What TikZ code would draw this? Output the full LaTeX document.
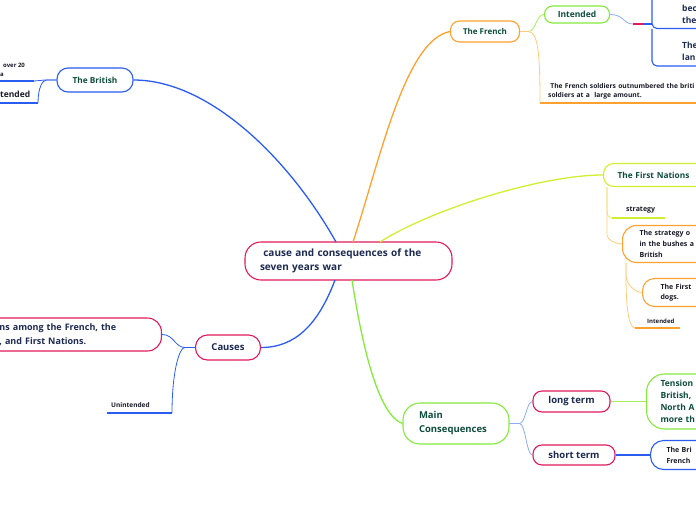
\documentclass[tikz,border=0pt]{standalone}
\usepackage{fontspec}
\setmainfont{Open Sans}
\definecolor{crim}{HTML}{E2195A}
\definecolor{blu}{HTML}{2A5CF0}
\definecolor{lblu}{HTML}{8FAAF8}
\definecolor{orng}{HTML}{FFA12E}
\definecolor{lorng}{HTML}{FFCB7A}
\definecolor{ylw}{HTML}{D2EE30}
\definecolor{lylw}{HTML}{E4F46A}
\definecolor{grn}{HTML}{84EA3C}
\definecolor{lgrn}{HTML}{A8EE5C}
\definecolor{dgrn}{HTML}{0E4D3B}
\definecolor{navy}{HTML}{1C2A52}
\definecolor{ink}{HTML}{1A1A28}
\tikzset{
  topic/.style={draw, rounded corners=10pt, line width=1.1pt, fill=white, inner sep=0pt, font=\bfseries\fontsize{8}{10}\selectfont},
  plain/.style={inner sep=0pt, text=ink, align=left, font=\bfseries\fontsize{6.7}{9}\selectfont},
  br/.style={line width=1.3pt},
  sub/.style={line width=0.8pt},
  uline/.style={line width=1.2pt}
}
\begin{document}
\begin{tikzpicture}[x=1pt,y=-1pt]
\useasboundingbox (0,0) rectangle (696,520);
\clip (0,0) rectangle (696,520);
\coordinate (cA) at (336,242);
\coordinate (cB) at (353,242);
\coordinate (cC) at (380,242);
\coordinate (cD) at (352,280);
\coordinate (cE) at (335,280);
% ---- nodes
\node[topic, draw=crim, text=navy, font=\bfseries\fontsize{10}{14}\selectfont, rounded corners=16pt, minimum width=207, minimum height=38, text width=177, align=left, inner xsep=15] (c) at (348.5,261) {\ cause and consequences of the\\seven years war};
\node[topic, draw=blu, text=dgrn, minimum width=76, minimum height=24, rounded corners=11pt, font=\bfseries\fontsize{8.3}{10}\selectfont] (brit) at (95,80) {The British};
\node[topic, draw=orng, text=dgrn, minimum width=69, minimum height=21, rounded corners=9pt] (fr) at (485,31.5) {The French};
\node[topic, draw=grn, text=dgrn, minimum width=65, minimum height=17, rounded corners=8pt, font=\bfseries\fontsize{8.5}{10}\selectfont] (int1) at (577,14.5) {Intended};
\node[topic, draw=ylw, text=dgrn, anchor=west, minimum height=23, text width=110, inner xsep=14, align=left, font=\bfseries\fontsize{8.3}{10}\selectfont] (fn) at (603,175) {The First Nations};
\node[topic, draw=orng, text=ink, anchor=west, minimum height=37, text width=110, inner xsep=17, align=left, font=\bfseries\fontsize{7}{11}\selectfont, rounded corners=14pt] (sb) at (622,244) {The strategy o\\in the bushes a\\British};
\node[topic, draw=orng, text=ink, anchor=west, minimum height=28, text width=100, inner xsep=18, align=left, font=\bfseries\fontsize{7}{10}\selectfont, rounded corners=12pt] (dg) at (642,292.5) {The First\\dogs.};
\node[topic, draw=crim, text=navy, minimum width=65, minimum height=25, font=\bfseries\fontsize{9.5}{11}\selectfont, rounded corners=12pt] (ca) at (228,347.5) {Causes};
\node[topic, draw=crim, text=navy, anchor=east, minimum height=33, text width=146, inner xsep=16, align=left, font=\bfseries\fontsize{9}{14}\selectfont, rounded corners=14pt] (tn) at (162,334.5) {ns among the French, the\\, and First Nations.};
\node[topic, draw=grn, text=dgrn, minimum width=106, minimum height=41, text width=74, inner xsep=16, align=left, font=\bfseries\fontsize{9.5}{14}\selectfont, rounded corners=17pt] (mc) at (456,423.5) {Main\\Consequences};
\node[topic, draw=crim, text=navy, minimum width=77, minimum height=21, font=\bfseries\fontsize{9.5}{11}\selectfont, rounded corners=9pt] (lt) at (571.5,401.5) {long term};
\node[topic, draw=crim, text=navy, minimum width=82, minimum height=20, font=\bfseries\fontsize{9.5}{11}\selectfont, rounded corners=9pt] (st) at (574,455) {short term};
\node[topic, draw=grn, text=dgrn, anchor=west, minimum height=55, text width=100, inner xsep=14, align=left, font=\bfseries\fontsize{8.5}{12}\selectfont, rounded corners=18pt] (tb) at (646,401.5) {Tension\\British,\\North A\\more th};
\node[topic, draw=blu, text=ink, anchor=west, minimum height=29, text width=100, inner xsep=16, align=left, font=\bfseries\fontsize{7}{11}\selectfont, rounded corners=13pt] (bf) at (650,455) {The Bri\\French};
% blue boxes next to Intended
\node[plain, anchor=west, text=navy, font=\bfseries\fontsize{8.5}{12}\selectfont] (ia) at (682,14) {bec\\the};
\node[plain, anchor=west, text=navy, font=\bfseries\fontsize{8.5}{12}\selectfont] (ib) at (682,51.5) {The\\lan};
\draw[blu, line width=1.1pt, rounded corners=5pt] (652,-5) -- (652,28.5) -- (720,28.5);
\draw[blu, line width=1.1pt, rounded corners=5pt] (652,29) -- (652,66) -- (720,66);
% plain (underlined) nodes
\node[plain, anchor=south west, text width=150, inner xsep=8, inner ysep=4] (so) at (540,103) {\ The French soldiers outnumbered the briti\\soldiers at a \ large amount.};
\node[plain, anchor=south west, text width=40, inner xsep=14, inner ysep=5, font=\bfseries\fontsize{7}{9}\selectfont] (sg) at (612,218) {strategy};
\node[plain, anchor=south west, inner xsep=12, inner ysep=4, font=\bfseries\fontsize{6}{8}\selectfont] (i2) at (635,328) {Intended};
\node[plain, anchor=south west, inner xsep=4, inner ysep=5, font=\bfseries\fontsize{6.5}{8}\selectfont] (un) at (107,413) {Unintended};
\node[plain, anchor=south west, inner xsep=0, inner ysep=4, font=\bfseries\fontsize{6}{9}\selectfont] (b1) at (0,81) {\hspace*{3pt}over 20\\a};
\node[plain, anchor=south west, inner xsep=0, inner ysep=5, font=\bfseries\fontsize{8.5}{10}\selectfont] (b2) at (0,103) {tended};
\coordinate (unr) at (172,413);
\coordinate (b1r) at (34,81);
\coordinate (b2r) at (38,103);
\coordinate (kA) at (633,24);
\coordinate (kB) at (643,24);
\coordinate (brk) at (652,24);
\coordinate (i2r) at (680,328);
\coordinate (sgr) at (665,218);
% underlines
\draw[orng, uline] (so.south west) -- (so.south east);
\draw[ylw, uline] (sg.south west) -- (sgr);
\draw[orng, uline] (i2.south west) -- (i2r);
\draw[blu, uline] (un.south west) -- (unr);
\draw[blu, uline] (0,81) -- (b1r);
\draw[blu, uline] (0,103) -- (b2r);
% main branches
\draw[blu, br] (cA) .. controls (290,160) and (210,80) .. (brit.east);
\draw[orng, br] (cB) .. controls (380,160) and (405,40) .. (fr.west);
\draw[ylw, br] (cC) .. controls (430,210) and (540,175) .. (fn.west);
\draw[grn, br] (cD) .. controls (362,345) and (378,415) .. (mc.west);
\draw[blu, br] (cE) .. controls (318,325) and (295,347.5) .. (ca.east);
% sub connectors
\draw[lgrn, sub] (fr.east) -- ++(8,0) .. controls +(8,0) and +(-8,0) .. (int1.west);
\draw[lorng, sub] (fr.east) -- ++(8,0) .. controls +(10,0) and +(0,-50) .. (so.south west);
\draw[lblu, sub] (int1.east) .. controls +(14,0) and +(-10,0) .. (kA);
\draw[crim, line width=1.2pt] (kA) -- (kB);
\draw[blu, line width=1.2pt] (kB) -- (brk);
\draw[lylw, sub] ([xshift=4pt]fn.south west) -- ++(0,22) .. controls +(0,6) and +(-4,0) .. (sg.south west);
\draw[lorng, sub] ([xshift=4pt]fn.south west) -- ++(0,48) .. controls +(0,5) and +(-6,0) .. (sb.west);
\draw[lorng, sub] ([xshift=4pt]sb.south west) -- ++(0,12) .. controls +(0,10) and +(-6,0) .. (dg.west);
\draw[lorng, sub] ([xshift=4pt]sb.south west) -- ++(0,12) .. controls +(0,40) and +(-5,0) .. (i2.south west);
\draw[blu, sub] (ca.west) -- ++(-10,0) .. controls +(-10,0) and +(12,0) .. (tn.east);
\draw[blu, sub] (ca.west) -- ++(-10,0) .. controls +(-6,0) and +(0,-40) .. (unr);
\draw[blu, sub] (brit.west) -- ++(-10,0) .. controls +(-5,0) and +(4,0) .. (b1r);
\draw[blu, sub] (brit.west) -- ++(-10,0) .. controls +(-4,0) and +(0,-15) .. (b2r);
\draw[lblu, sub] (mc.east) -- ++(10,0) .. controls +(6,0) and +(-6,0) .. (lt.west);
\draw[lblu, sub] (mc.east) -- ++(10,0) .. controls +(6,0) and +(-6,0) .. (st.west);
\draw[lgrn, line width=1.5pt] (lt.east) -- (tb.west);
\draw[blu, line width=1.1pt] (st.east) -- (bf.west);
\end{tikzpicture}
\end{document}
